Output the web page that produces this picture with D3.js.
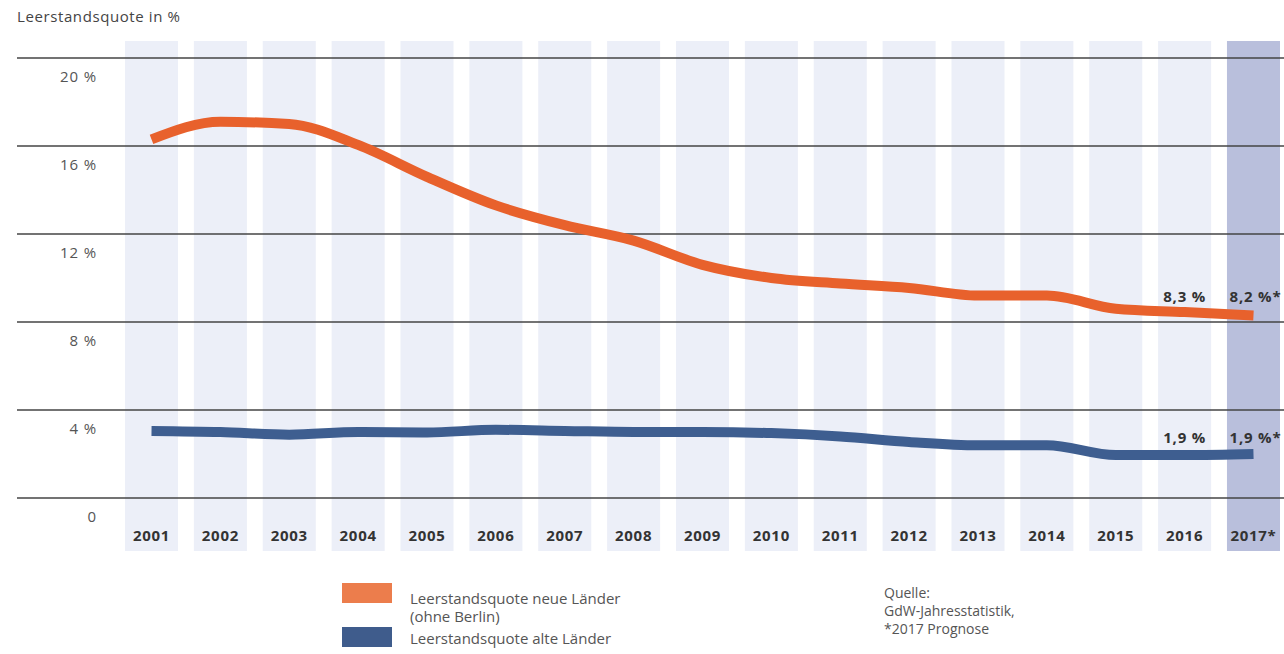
<!DOCTYPE html>
<html>
<head>
<meta charset="utf-8">
<script src="https://cdn.jsdelivr.net/npm/d3@7"></script>
<style>
  body { margin: 0; background: #fff; }
  svg { display: block; font-family: "Open Sans", sans-serif; }
</style>
</head>
<body>
<svg id="chart" width="1284" height="654"></svg>
<script>
const years = ["2001","2002","2003","2004","2005","2006","2007","2008","2009","2010","2011","2012","2013","2014","2015","2016","2017"];
const yearLabels = ["2001","2002","2003","2004","2005","2006","2007","2008","2009","2010","2011","2012","2013","2014","2015","2016","2017*"];
const neueLaender = [16.3, 17.1, 17.0, 16.05, 14.6, 13.3, 12.4, 11.7, 10.6, 10.0, 9.75, 9.55, 9.2, 9.2, 8.6, 8.45, 8.3];
const alteLaender = [3.05, 3.0, 2.88, 3.0, 2.98, 3.1, 3.05, 3.0, 3.0, 2.95, 2.8, 2.55, 2.4, 2.4, 1.95, 1.95, 2.0];
const yTicks = [0, 4, 8, 12, 16, 20];
const endLabelsNeu = ["8,3 %", "8,2 %*"];
const endLabelsAlt = ["1,9 %", "1,9 %*"];

const svg = d3.select("#chart");

const x = d3.scaleBand().domain(years).range([125, 1280]).paddingInner(0.23).paddingOuter(0);
const y = d3.scaleLinear().domain([0, 20]).range([498, 58]);

// column stripes, the forecast year darker
svg.append("g").selectAll("rect")
  .data(years)
  .join("rect")
  .attr("x", d => x(d))
  .attr("y", 41)
  .attr("width", x.bandwidth())
  .attr("height", 510)
  .attr("fill", (d, i) => i == years.length - 1 ? "#b9bfdc" : "#eceff8");

// gridlines + tick labels (labels sit under the line)
const grid = svg.append("g");
grid.selectAll("line")
  .data(yTicks)
  .join("line")
  .attr("x1", 17).attr("x2", 1284)
  .attr("y1", d => y(d)).attr("y2", d => y(d))
  .attr("stroke", "#444")
  .attr("stroke-width", 1.7);
grid.selectAll("text")
  .data(yTicks)
  .join("text")
  .attr("x", 97)
  .attr("y", d => y(d) + 24)
  .attr("text-anchor", "end")
  .attr("fill", "#555")
  .style("font-size", "15px")
  .style("letter-spacing", "0.9px")
  .text(d => d == 0 ? "0" : d + " %");

// year labels
svg.append("g").selectAll("text")
  .data(years)
  .join("text")
  .attr("x", d => x(d) + x.bandwidth() / 2)
  .attr("y", 541)
  .attr("text-anchor", "middle")
  .attr("fill", "#333")
  .style("font-size", "15px")
  .style("font-weight", "bold")
  .style("letter-spacing", "0.7px")
  .text((d, i) => yearLabels[i]);

const line = d3.line()
  .x((d, i) => x(years[i]) + x.bandwidth() / 2)
  .y(d => y(d))
  .curve(d3.curveMonotoneX);

svg.append("path")
  .datum(neueLaender)
  .attr("d", line)
  .attr("fill", "none")
  .attr("stroke", "#e8612c")
  .attr("stroke-width", 10);

svg.append("path")
  .datum(alteLaender)
  .attr("d", line)
  .attr("fill", "none")
  .attr("stroke", "#3e5e90")
  .attr("stroke-width", 10);

// value labels at the end
const last2 = years.slice(-2);
function endLabels(labels, yPos) {
  svg.append("g").selectAll("text")
    .data(labels)
    .join("text")
    .attr("x", (d, i) => x(last2[i]) + x.bandwidth() / 2 + (i == 1 ? 2 : 0))
    .attr("y", yPos)
    .attr("text-anchor", "middle")
    .attr("fill", "#333")
    .style("font-size", "15px")
    .style("font-weight", "bold")
    .style("letter-spacing", "0.8px")
    .text(d => d);
}
endLabels(endLabelsNeu, 302);
endLabels(endLabelsAlt, 443);

// title
svg.append("text")
  .attr("x", 17).attr("y", 22)
  .attr("fill", "#444")
  .style("font-size", "15px")
  .style("letter-spacing", "0.6px")
  .text("Leerstandsquote in %");

// legend
const legend = svg.append("g").style("font-size", "15px").attr("fill", "#555");
legend.append("rect").attr("x", 342).attr("y", 583).attr("width", 50).attr("height", 20).attr("fill", "#ec7d4c");
legend.append("rect").attr("x", 342).attr("y", 627).attr("width", 50).attr("height", 20).attr("fill", "#3f5c8c");
legend.append("text").attr("x", 410).attr("y", 604).text("Leerstandsquote neue Länder");
legend.append("text").attr("x", 410).attr("y", 622).text("(ohne Berlin)");
legend.append("text").attr("x", 410).attr("y", 644).text("Leerstandsquote alte Länder");

// source
const src = svg.append("g").style("font-size", "14px").attr("fill", "#555");
["Quelle:", "GdW-Jahresstatistik,", "*2017 Prognose"].forEach((t, i) => {
  src.append("text").attr("x", 884).attr("y", 598 + i * 18).text(t);
});
</script>
</body>
</html>
